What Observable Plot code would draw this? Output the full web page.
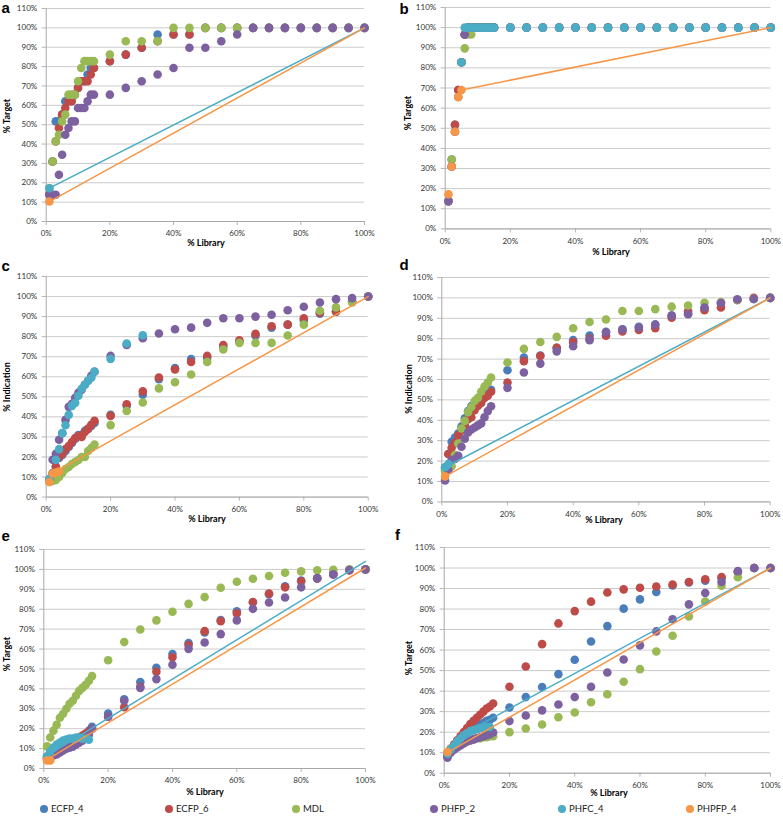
<!DOCTYPE html>
<html>
<head>
<meta charset="utf-8">
<script src="https://cdn.jsdelivr.net/npm/d3@7"></script>
<script src="https://cdn.jsdelivr.net/npm/@observablehq/plot@0.6"></script>
<style>
  html, body { margin: 0; padding: 0; background: #fff; }
  #root { position: relative; width: 783px; height: 816px; overflow: hidden; font-family: Lato, "Open Sans", sans-serif; }
  .panel { position: absolute; }
  .ttl { position: absolute; font-weight: bold; font-size: 9px; color: #000; white-space: nowrap; line-height: 1; transform: translate(-50%, -50%); }
  .ttl.rot { transform: translate(-50%, -50%) rotate(-90deg); }
  .letter { position: absolute; font-family: "Liberation Sans", Arial, sans-serif; font-weight: bold; font-size: 15px; line-height: 1; color: #000; }
  .leg { position: absolute; display: flex; align-items: center; font-size: 9.5px; color: #222; white-space: nowrap; line-height: 1; }
  .leg .sw { display: inline-block; width: 8px; height: 8px; border-radius: 50%; margin-right: 3px; }
</style>
</head>
<body>
<div id="root"></div>
<script>
// ---------- data ----------
const SERIES = ["ECFP_4", "ECFP_6", "MDL", "PHFP_2", "PHFC_4", "PHPFP_4"];
const COLORS = ["#4a7ebb", "#be4b48", "#98b954", "#7d60a0", "#4bacc6", "#f79646"];
const LIBRARY = [1,2,3,4,5,6,7,8,9,10,11,12,13,14,15,20,25,30,35,40,45,50,55,60,65,70,75,80,85,90,95,100];
const Y_TICKS = [0,10,20,30,40,50,60,70,80,90,100,110];
const X_TICKS = [0,20,40,60,80,100];

// panel a (% Target)
const a_ECFP_4  = [14,31,51.7,51.7,55.2,62.1,62.1,62.1,65.5,69,72.4,72.4,75.9,79.3,79.3,82.8,86.2,89.7,96.6,96.6,96.6,100,100,100,100,100,100,100,100,100,100,100];
const a_ECFP_6  = [14,31,41.4,48.3,55.2,58.6,62.1,62.1,65.5,69,72.4,72.4,72.4,75.9,79.3,82.8,86.2,89.7,93.1,96.6,96.6,100,100,100,100,100,100,100,100,100,100,100];
const a_MDL     = [17.2,31,41.4,44.8,51.7,55.2,65.5,65.5,65.5,72.4,79.3,82.8,82.8,82.8,82.8,86.2,93.1,93.1,93.1,100,100,100,100,100,100,100,100,100,100,100,100,100];
const a_PHFP_2  = [13.8,13.8,13.8,24.1,34.5,44.8,48.3,51.7,51.7,58.6,58.6,58.6,62.1,65.5,65.5,65.5,69,72.4,75.9,79.3,89.7,89.7,93.1,96.6,100,100,100,100,100,100,100,100];
const a_PHFC_4  = [17.2];
const a_PHPFP_4 = [10.3];
const a_PHFC_4_line  = [[1,17.2],[100,100]];
const a_PHPFP_4_line = [[1,10.3],[100,100]];

// panel b (% Target)
const b_ECFP_4  = [13.8,34.5,51.7,69,82.8,96.6,100,100,100,100,100,100,100,100,100,100,100,100,100,100,100,100,100,100,100,100,100,100,100,100,100,100];
const b_ECFP_6  = [13.8,31,51.7,69,82.8,96.6,100,100,100,100,100,100,100,100,100,100,100,100,100,100,100,100,100,100,100,100,100,100,100,100,100,100];
const b_MDL     = [13.8,34.5,48.3,65.5,82.8,89.7,96.6,96.6,100,100,100,100,100,100,100,100,100,100,100,100,100,100,100,100,100,100,100,100,100,100,100,100];
const b_PHFP_2  = [13.8,31,48.3,65.5,82.8,96.6,100,100,100,100,100,100,100,100,100,100,100,100,100,100,100,100,100,100,100,100,100,100,100,100,100,100];
const b_PHFC_4  = [null,null,null,null,82.8,100,100,100,100,100,100,100,100,100,100,100,100,100,100,100,100,100,100,100,100,100,100,100,100,100,100,100];
const b_PHPFP_4 = [17.2,31,48.3,65.5,69];
const b_PHPFP_4_line = [[5,69],[100,100]];

// panel c (% Indication)
const c_ECFP_4  = [8.5,11,15,19.5,21,23,25,27,29,31,31,33,34,35.5,37,41,45.5,51,58.8,64.3,68.8,69.5,75,77.5,80.5,84.5,86,88,91.5,92.5,97.5,100];
const c_ECFP_6  = [8,12,15.3,20,21.5,24,25.5,27.5,29.5,30.5,30,32.5,34,36,38,40.5,46.3,52.7,59.6,63.6,67.4,70.4,75.8,78.2,81.4,85.2,86,89.2,92,92.5,97.5,100];
const c_MDL     = [7.5,8,8.5,10,12,14,15,16.5,17.5,18.5,20,20,23,24.5,26.2,35.9,42.9,47.2,54.2,57.3,61.1,67.4,73.6,76.9,76.9,76.9,80.6,86,92.9,94.6,97,100];
const c_PHFP_2  = [9,18.6,21.6,28.6,31.8,38.5,45,46.5,49.5,52,53.5,56,58,60.5,62.5,70.4,75.9,79.2,81.6,83.7,84.5,86.9,89.2,89.2,90,90.9,93.2,94.9,97,98.7,99.2,100];
const c_PHFC_4  = [9,12,18.6,23.9,31.9,35.8,41,45.5,47,50.5,54,56,58,59.5,62.6,68.9,76.6,80.7];
const c_PHPFP_4 = [7.5,11.8,12.3,12.8];
const c_PHPFP_4_line = [[2,11.8],[100,100]];

// panel d (% Indication)
const d_ECFP_4  = [17,23.5,29.5,31.5,33.5,37,41,44.5,47,46.5,48,50,52,53.5,55,64.5,70.8,71.8,75.5,79.3,81.6,83.4,84.6,85.8,87,91.3,92.3,95,97.5,99,99.5,100];
const d_ECFP_6  = [16,23.5,26.5,29,32.5,35,37.5,40.5,41.5,45,47,48.5,51,52,54,58.5,69,71.5,75.5,78.3,80,81.5,83.5,84.3,85.2,90.3,93.5,94,95.3,99,100,100];
const d_MDL     = [15,17,17.5,23,28.6,36,39.7,44,46.5,49.5,51,54,56.5,58.5,61,68.3,75,78.4,80.9,85.1,88.2,89.4,93.6,93.6,94.5,95.7,96.3,97.6,98,99,99.5,100];
const d_PHFP_2  = [10.5,15.5,20.5,21,22.6,27,31,34,35.5,36.5,37.5,38.5,41.5,44.5,46.9,55.9,63.4,67.8,73.8,76.3,79.3,83,84.5,85.5,86.8,91.3,92,95.3,97.5,99.3,99.5,100];
const d_PHFC_4  = [17,18.5];
const d_PHPFP_4 = [12.5];
const d_PHFC_4_line  = [[1,17],[100,100]];
const d_PHPFP_4_line = [[1,12.5],[100,100]];

// panel e (% Target)
const e_ECFP_4  = [6,7,8,9,10,11,11.5,12,13,14,15,16,17,19,21,27.6,34.8,43.4,50.6,57.5,63,68.3,74.6,79,83.5,87.5,91.5,94.4,95.6,97.8,99.7,100];
const e_ECFP_6  = [5,6,7,8,9,10,11,12,13,14.5,15.5,16.5,17.5,18.5,20,26,30.8,41,48.6,55.9,62,69,74,77.9,83.6,87.9,91,94,95.5,97.5,99.5,100];
const e_MDL     = [11.1,15.6,19,22,25.5,27.5,30,32.5,34,36.5,39,40.5,42,44,46.4,54.4,63.5,69.8,74.4,78.7,82.7,86.1,90.8,93.8,95.3,96.7,98.3,99,99.6,99.8,100,100];
const e_PHFP_2  = [5,6,6.5,7,8,9,10,10.5,11,12,13,14,15.5,17,20,26,34,40.5,44.9,52.1,60.1,63.3,67.5,74.4,80.2,83.4,85.9,91,95.5,97.5,99.7,100];
const e_PHFC_4  = [6,8.5,10.5,12,13,14,14.5,15,15,15.5,15.5,15,15,14.5];
const e_PHPFP_4 = [4,4];
const e_PHFC_4_line  = [[1,6.5],[100,104]];
const e_PHPFP_4_line = [[1,4.5],[100,100.7]];

// panel f (% Target)
const f_ECFP_4  = [8,11,13,15,17,18.5,19.5,20.5,21.5,22.5,23.5,24.5,25.5,26,27,32,37.1,42,48.3,55.3,64.2,71.7,80.2,84.7,88.3,91.5,93,93.8,95,98,100,100];
const f_ECFP_6  = [9,12,14,16,18,20,22,24,25.5,27,28.5,30,31.5,32.5,34,42.1,52,62.9,73,79,83.6,88.1,89.6,90.4,91,92,93.2,94.5,95.6,98,100,100];
const f_MDL     = [10,12,13,14,14.5,15,15.5,16,16.5,17,17,17.5,17.5,18,18,20,21.8,23.7,27.3,29.6,34.6,38.5,44.6,50.7,59.3,67,76.4,83.7,91.4,95.5,100,100];
const f_PHFP_2  = [7.5,10,11.5,12.5,13.5,14.5,15.5,16,16.5,17,17.5,18,18.5,19,19.8,25.4,28.1,30.6,33.5,37.1,42.1,49.1,55.4,62.3,69.1,75,82.3,87.8,93.2,98.5,100,100];
const f_PHFC_4  = [9.5,11.5,13.5,15.5,17,18.5,19.5,20.5,21,21.5,22,22,22.5,22.5];
const f_PHPFP_4 = [10.3];
const f_PHFC_4_line  = [[1,9.5],[8,21],[20,31.5],[100,100]];
const f_PHPFP_4_line = [[1,10],[100,100]];

// ---------- layout ----------
const PANELS = [
  { letter: "a", ytitle: "% Target", series: [a_ECFP_4,a_ECFP_6,a_MDL,a_PHFP_2,a_PHFC_4,a_PHPFP_4],
    lines: [null,null,null,null,a_PHFC_4_line,a_PHPFP_4_line],
    col: 0, x0: 45.7, x1: 364, yTop: 8.3, yBot: 221.3,
    letterPos: [1.5, 13], xt: [206, 242], yt: [6.3, 116] },
  { letter: "b", ytitle: "% Target", series: [b_ECFP_4,b_ECFP_6,b_MDL,b_PHFP_2,b_PHFC_4,b_PHPFP_4],
    lines: [null,null,null,null,null,b_PHPFP_4_line],
    col: 393, x0: 444.7, x1: 770.3, yTop: 7.3, yBot: 228.7,
    letterPos: [399.5, 13.3], xt: [611, 250.5], yt: [406.8, 113] },
  { letter: "c", ytitle: "% Indication", series: [c_ECFP_4,c_ECFP_6,c_MDL,c_PHFP_2,c_PHFC_4,c_PHPFP_4],
    lines: [null,null,null,null,null,c_PHPFP_4_line],
    col: 0, x0: 45.7, x1: 367.7, yTop: 275.7, yBot: 496.3,
    letterPos: [1.5, 271], xt: [207, 518.3], yt: [6.3, 386.7] },
  { letter: "d", ytitle: "% Indication", series: [d_ECFP_4,d_ECFP_6,d_MDL,d_PHFP_2,d_PHFC_4,d_PHPFP_4],
    lines: [null,null,null,null,d_PHFC_4_line,d_PHPFP_4_line],
    col: 393, x0: 441.3, x1: 769.7, yTop: 277.3, yBot: 501.7,
    letterPos: [399.5, 270], xt: [604, 519.3], yt: [408, 389] },
  { letter: "e", ytitle: "% Target", series: [e_ECFP_4,e_ECFP_6,e_MDL,e_PHFP_2,e_PHFC_4,e_PHPFP_4],
    lines: [null,null,null,null,e_PHFC_4_line,e_PHPFP_4_line],
    col: 0, x0: 43.3, x1: 365, yTop: 549.3, yBot: 768.3,
    letterPos: [1.5, 541], xt: [205, 791], yt: [6.3, 654] },
  { letter: "f", ytitle: "% Target", series: [f_ECFP_4,f_ECFP_6,f_MDL,f_PHFP_2,f_PHFC_4,f_PHPFP_4],
    lines: [null,null,null,null,f_PHFC_4_line,f_PHPFP_4_line],
    col: 393, x0: 443.7, x1: 770, yTop: 547.3, yBot: 773,
    letterPos: [395, 540], xt: [609, 792], yt: [408, 657.7] }
];
const LEGEND_X = [44, 169, 296, 434, 562, 690];
const LEGEND_Y = 809;

const root = document.getElementById("root");
const pct = d => d + "%";

function buildPanel(p) {
  const svgTop = p.yTop - 8;
  const width = 390;
  const height = Math.round(p.yBot + 20 - svgTop);
  const marks = [
    Plot.gridY(Y_TICKS, {stroke: "#cbcbcb", strokeOpacity: 1, strokeWidth: 1}),
    Plot.axisY(Y_TICKS, {tickFormat: pct, tickSize: 4, tickPadding: 5, stroke: "#b5b5b5", fill: "#333", label: null, fontSize: 8}),
    Plot.axisX(X_TICKS, {tickFormat: pct, tickSize: 4, tickPadding: 5, stroke: "#b5b5b5", fill: "#333", label: null, fontSize: 8}),
    Plot.ruleX([0], {stroke: "#a8a8a8"}),
    Plot.ruleY([0], {stroke: "#a8a8a8"})
  ];
  SERIES.forEach((name, s) => {
    const ln = p.lines[s];
    if (ln) {
      marks.push(Plot.line(ln.map(([x, y]) => ({x, y})), {x: "x", y: "y", stroke: COLORS[s], strokeWidth: 1.5}));
    }
    const rows = p.series[s]
      .map((y, j) => ({series: name, x: LIBRARY[j], y}))
      .filter(d => d.y != null);
    marks.push(Plot.dot(rows, {x: "x", y: "y", r: 4.3, fill: COLORS[s]}));
  });
  const chart = Plot.plot({
    width, height,
    marginLeft: p.x0 - p.col,
    marginRight: p.col + width - p.x1,
    marginTop: p.yTop - svgTop,
    marginBottom: svgTop + height - p.yBot,
    x: {domain: [0, 100]},
    y: {domain: [0, 110]},
    style: {fontFamily: "Lato, 'Open Sans', sans-serif", fontSize: "8px", background: "transparent", overflow: "visible"},
    marks
  });
  chart.classList.add("panel");
  chart.style.left = p.col + "px";
  chart.style.top = svgTop + "px";
  root.appendChild(chart);

  const L = document.createElement("div");
  L.className = "letter";
  L.textContent = p.letter;
  L.style.left = p.letterPos[0] + "px";
  L.style.top = (p.letterPos[1] - 12.7) + "px";
  root.appendChild(L);

  const xt = document.createElement("div");
  xt.className = "ttl";
  xt.textContent = "% Library";
  xt.style.left = p.xt[0] + "px";
  xt.style.top = p.xt[1] + "px";
  root.appendChild(xt);

  const yt = document.createElement("div");
  yt.className = "ttl rot";
  yt.textContent = p.ytitle;
  yt.style.left = p.yt[0] + "px";
  yt.style.top = p.yt[1] + "px";
  root.appendChild(yt);
}
PANELS.forEach(buildPanel);

SERIES.forEach((name, i) => {
  const item = document.createElement("div");
  item.className = "leg";
  item.style.left = (LEGEND_X[i] - 4) + "px";
  item.style.top = (LEGEND_Y - 6) + "px";
  item.style.height = "12px";
  const sw = document.createElement("span");
  sw.className = "sw";
  sw.style.background = COLORS[i];
  item.appendChild(sw);
  item.appendChild(document.createTextNode(name));
  root.appendChild(item);
});
</script>
</body>
</html>
